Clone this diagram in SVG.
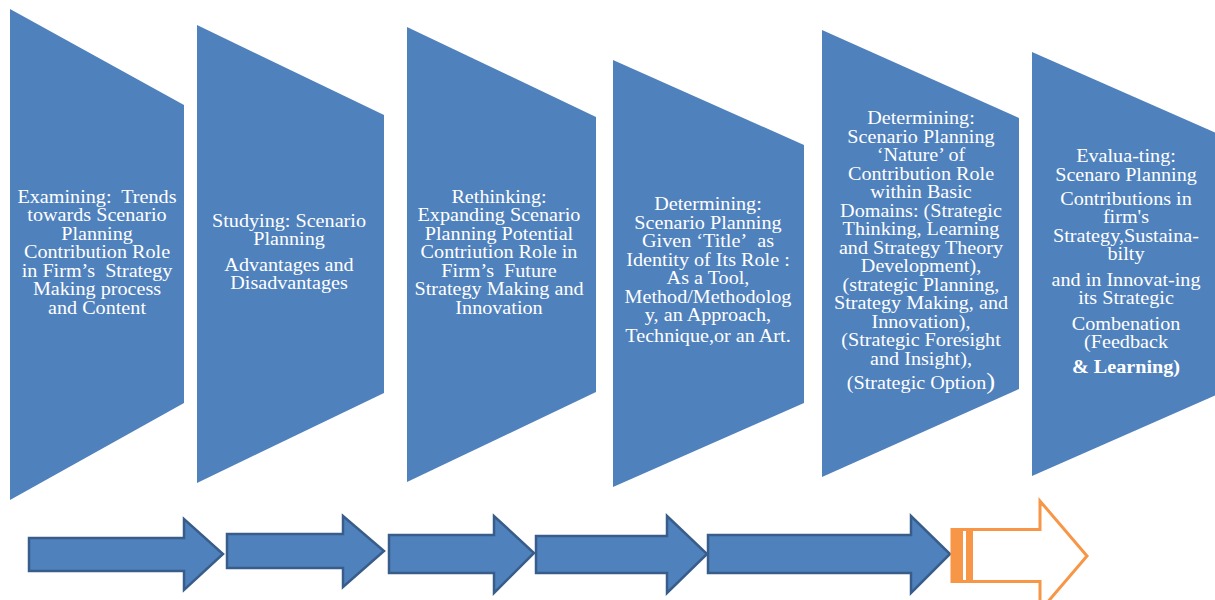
<svg xmlns="http://www.w3.org/2000/svg" width="1215" height="600" viewBox="0 0 1215 600">
<style>
.shape{fill:#4F81BD;}
.t{font-family:"Liberation Serif","Times New Roman",serif;font-size:18px;fill:#FFFFFF;text-anchor:middle;}
.arr{fill:#4F81BD;stroke:#385D8A;stroke-width:2.5;stroke-linejoin:miter;}
.oarr{fill:#FFFFFF;stroke:#F79646;stroke-width:3;stroke-linejoin:miter;}
.obar{fill:#F79646;}
</style>
<rect width="1215" height="600" fill="#FFFFFF"/>
<g id="node1">
<polygon class="shape" points="10,9 184,105 184,403 10,500"/>
<g transform="translate(97,0) scale(1.12,1)">
<text class="t"><tspan x="0" y="203">Examining:&#160; Trends</tspan><tspan x="0" y="221.5">towards Scenario</tspan><tspan x="0" y="240">Planning</tspan><tspan x="0" y="258.5">Contribution Role</tspan><tspan x="0" y="277">in Firm’s&#160; Strategy</tspan><tspan x="0" y="295.5">Making process</tspan><tspan x="0" y="314">and Content</tspan></text>
</g>
</g>
<g id="node2">
<polygon class="shape" points="197,25 384,115 384,393 197,483"/>
<g transform="translate(289,0) scale(1.12,1)">
<text class="t"><tspan x="0" y="227">Studying: Scenario</tspan><tspan x="0" y="245">Planning</tspan><tspan x="0" y="271">Advantages and</tspan><tspan x="0" y="289">Disadvantages</tspan></text>
</g>
</g>
<g id="node3">
<polygon class="shape" points="407,27 596,117 596,392 407,482"/>
<g transform="translate(499,0) scale(1.12,1)">
<text class="t"><tspan x="0" y="203">Rethinking:</tspan><tspan x="0" y="221.5">Expanding Scenario</tspan><tspan x="0" y="240">Planning Potential</tspan><tspan x="0" y="258.5">Contriution Role in</tspan><tspan x="0" y="277">Firm’s&#160; Future</tspan><tspan x="0" y="295.5">Strategy Making and</tspan><tspan x="0" y="314">Innovation</tspan></text>
</g>
</g>
<g id="node4">
<polygon class="shape" points="613,60 804,145 804,403 613,487"/>
<g transform="translate(708,0) scale(1.12,1)">
<text class="t"><tspan x="0" y="210">Determining:</tspan><tspan x="0" y="229">Scenario Planning</tspan><tspan x="0" y="247.5">Given ‘Title’&#160; as</tspan><tspan x="0" y="266">Identity of Its Role :</tspan><tspan x="0" y="284.5">As a Tool,</tspan><tspan x="0" y="303">Method/Methodolog</tspan><tspan x="0" y="321.5">y, an Approach,</tspan><tspan x="0" y="342">Technique,or an Art.</tspan></text>
</g>
</g>
<g id="node5">
<polygon class="shape" points="822,30 1019,118 1019,389 822,477"/>
<g transform="translate(921,0) scale(1.12,1)">
<text class="t"><tspan x="0" y="124">Determining:</tspan><tspan x="0" y="143">Scenario Planning</tspan><tspan x="0" y="161.5">‘Nature’ of</tspan><tspan x="0" y="180">Contribution Role</tspan><tspan x="0" y="198.5">within Basic</tspan><tspan x="0" y="217">Domains: (Strategic</tspan><tspan x="0" y="235.5">Thinking, Learning</tspan><tspan x="0" y="254">and Strategy Theory</tspan><tspan x="0" y="272.5">Development),</tspan><tspan x="0" y="291">(strategic Planning,</tspan><tspan x="0" y="309.5">Strategy Making, and</tspan><tspan x="0" y="328">Innovation),</tspan><tspan x="0" y="346.5">(Strategic Foresight</tspan><tspan x="0" y="365">and Insight),</tspan><tspan x="0" y="389">(Strategic Option<tspan font-size="24">)</tspan></tspan></text>
</g>
</g>
<g id="node6">
<polygon class="shape" points="1032,52 1225,137 1225,391 1032,476"/>
<g transform="translate(1126,0) scale(1.12,1)">
<text class="t"><tspan x="0" y="162">Evalua-ting:</tspan><tspan x="0" y="181">Scenaro Planning</tspan><tspan x="0" y="205">Contributions in</tspan><tspan x="0" y="223">firm's</tspan><tspan x="0" y="242">Strategy,Sustaina-</tspan><tspan x="0" y="260">bilty</tspan><tspan x="0" y="286">and in Innovat-ing</tspan><tspan x="0" y="304">its Strategic</tspan><tspan x="0" y="330">Combenation</tspan><tspan x="0" y="348">(Feedback</tspan><tspan x="0" y="373" font-weight="bold">&amp; Learning)</tspan></text>
</g>
</g>
<g id="connectors">
<path class="arr" d="M29,538 H184 V519 L223,554 L184,590 V571 H29 Z"/>
<path class="arr" d="M227,534 H343 V516 L384,551 L343,587 V568 H227 Z"/>
<path class="arr" d="M389,535 H494 V516 L534,553 L494,593 V573 H389 Z"/>
<path class="arr" d="M536,536 H667 V516 L707,554 L667,593 V573 H536 Z"/>
<path class="arr" d="M708,535 H911 V516 L950,554 L911,593 V573 H708 Z"/>
<path class="oarr" d="M952,529.5 H1040 V501 L1087,556 L1040,611 V581.5 H952 Z"/>
<rect class="obar" x="951" y="528" width="12" height="55"/>
<rect class="obar" x="966" y="528" width="7" height="55"/>
</g>
</svg>
